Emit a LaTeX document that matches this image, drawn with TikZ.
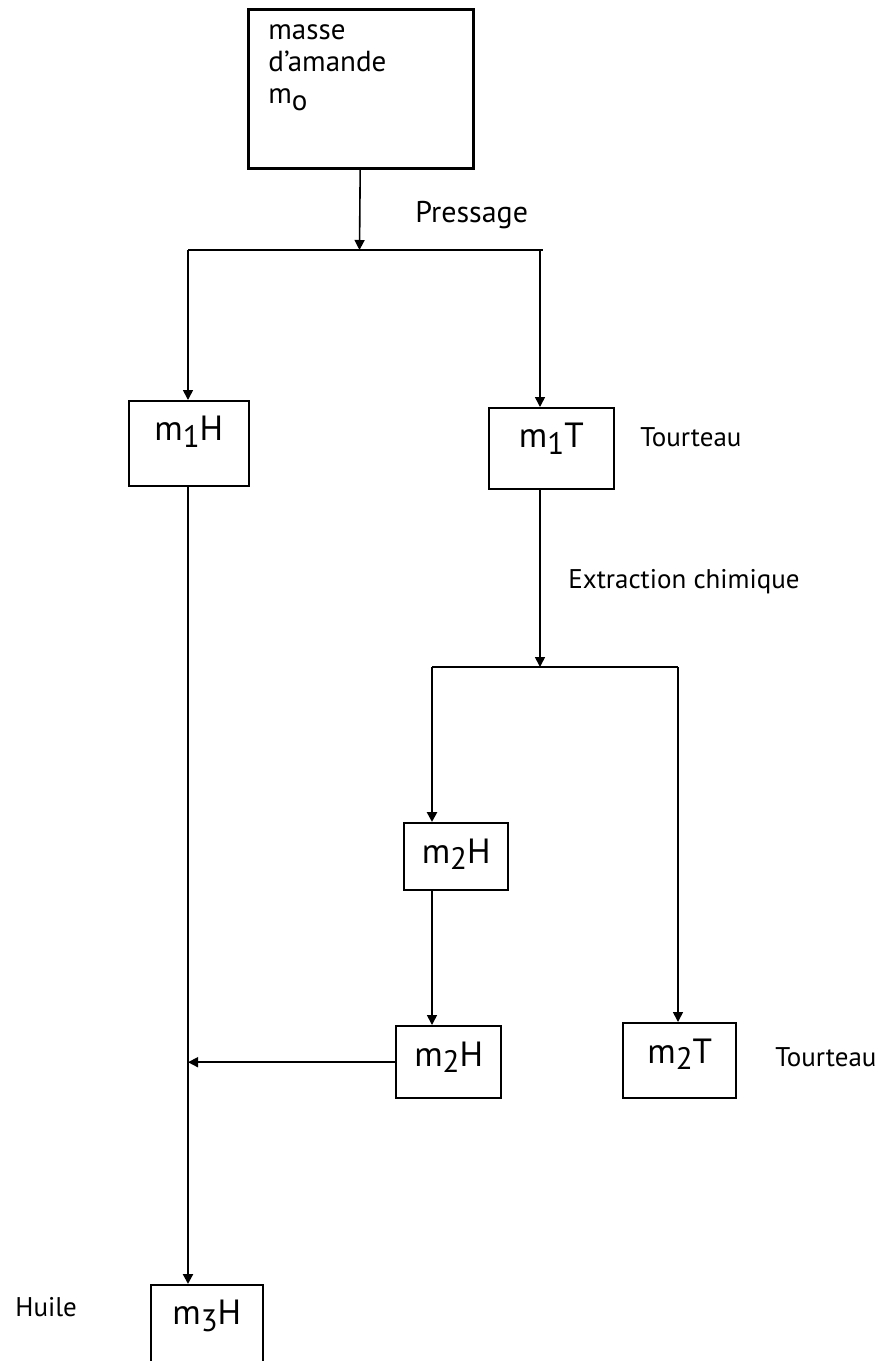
\documentclass[tikz,border=0pt]{standalone}
\usepackage{fontspec}
\setmainfont{PT Sans}
\usetikzlibrary{arrows.meta, positioning}

% chiffre bas de casse dans les etiquettes
\newcommand{\chif}[1]{\raisebox{-0.18em}{\fontsize{15.5}{15.5}\selectfont #1}}

\begin{document}
\begin{tikzpicture}[
    x=0.5pt, y=-0.5pt,
    every node/.style={font=\fontsize{13.5}{16}\selectfont},
    boite/.style={rectangle, draw, line width=0.8pt, anchor=north west, inner sep=0pt, text height=20pt, font=\fontsize{17.5}{20}\selectfont},
    etiquette/.style={anchor=west, inner sep=0pt},
    arrow/.style={-{Triangle[length=5pt, width=5pt]}, line width=0.8pt}
]
\useasboundingbox (0,0) rectangle (885,1361);

% boites
\node[boite, line width=1.4pt, minimum width=112.5pt, minimum height=79.5pt] (amande) at (247,8) {};
\node[anchor=north west, align=left, inner sep=0pt, font=\fontsize{14.5}{16}\selectfont] (amandetxt) at (268,24) {masse\\d'amande\\m\raisebox{-0.25em}{o}};
\node[boite, minimum width=60pt, minimum height=42.5pt, text depth=22.5pt] (m1H) at (128,400) {m\chif{1}H};
\node[boite, minimum width=62.5pt, minimum height=40.5pt, text depth=20.5pt] (m1T) at (488,407) {m\chif{1}T};
\node[boite, line width=1.2pt, minimum width=52pt, minimum height=33.5pt, text depth=13.5pt] (m2Ha) at (403,822) {m\chif{2}H};
\node[boite, line width=1.2pt, minimum width=52.5pt, minimum height=36pt, text depth=16pt] (m2Hb) at (395,1025) {m\chif{2}H};
\node[boite, line width=1.2pt, minimum width=56.5pt, minimum height=37.5pt, text depth=17.5pt] (m2T) at (622,1022) {m\chif{2}T};
\node[boite, minimum width=56pt, minimum height=50pt, text depth=30pt] (m3H) at (150,1284) {m\chif{3}H};

% textes
\node[etiquette, font=\fontsize{15}{18}\selectfont] (pressage) at (415,215) {Pressage};
\node[etiquette] (tourteau1) at (640,437) {Tourteau};
\node[etiquette] (extraction) at (568,582) {Extraction chimique};
\node[etiquette] (tourteau2) at (775,1057) {Tourteau};
\node[etiquette] (huile) at (15,1307) {Huile};

% jonctions
\coordinate (jonction1) at (359.5,250);
\coordinate (gauche1) at (188,250);
\coordinate (droite1) at (540,250);
\coordinate (bout1) at (543,250);
\coordinate (jonction2) at (540,667);
\coordinate (gauche2) at (432,667);
\coordinate (droite2) at (678,667);

% liaisons
\draw[arrow] (amande) -- (jonction1);
\draw[line width=0.8pt] (gauche1) -- (bout1);
\draw[arrow] (gauche1) -- (gauche1 |- m1H.north);
\draw[arrow] (droite1) -- (droite1 |- m1T.north);
\draw[arrow] (m1T.south -| jonction2) -- (jonction2);
\draw[line width=1.3pt] (gauche2) -- (droite2);
\draw[arrow, line width=1.3pt] (gauche2) -- (gauche2 |- m2Ha.north);
\draw[arrow] (droite2) -- (droite2 |- m2T.north);
\draw[arrow] (m2Ha.south -| gauche2) -- (m2Hb.north -| gauche2);
\draw[arrow] (m2Hb.west) -- (m2Hb.west -| gauche1);
\draw[arrow, line width=1.1pt] (m1H.south -| gauche1) -- (m3H.north -| gauche1);
\end{tikzpicture}
\end{document}
